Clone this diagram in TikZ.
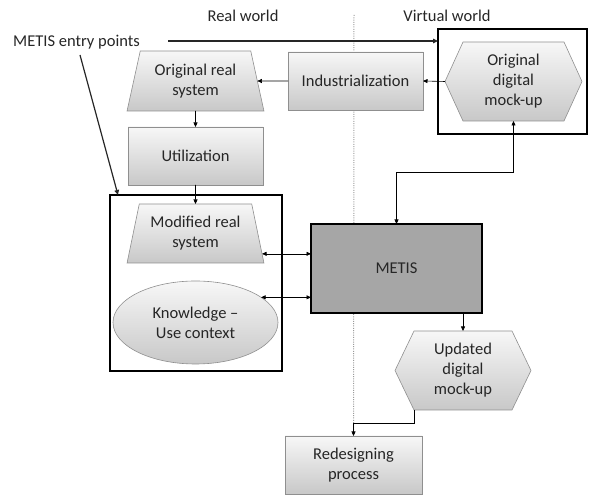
\documentclass[tikz,border=0pt]{standalone}
\usepackage{fontspec}
\setmainfont{Carlito}
\usetikzlibrary{shapes.geometric,arrows.meta,calc,backgrounds}
\definecolor{topc}{HTML}{F7F7F7}
\definecolor{botc}{HTML}{C8C8C8}
\definecolor{bord}{HTML}{8F8F8F}
\definecolor{metisc}{HTML}{A6A6A6}
\definecolor{txt}{HTML}{262626}
\definecolor{dotc}{HTML}{9A9A9A}
\begin{document}
\begin{tikzpicture}[x=1pt,y=1pt,
  every node/.style={font=\fontsize{16.5}{20}\selectfont, text=txt},
  box/.style={draw=bord, line width=0.6pt, top color=topc, bottom color=botc, align=center, inner sep=2pt, outer sep=0pt},
  trap/.style={box, trapezium, trapezium stretches=true, trapezium left angle=75, trapezium right angle=75},
  hexnode/.style={align=center, inner sep=0pt, outer sep=0pt},
  hexfill/.style={draw=bord, line width=0.6pt, top color=topc, bottom color=botc},
  container/.style={draw=black, line width=1.8pt, inner sep=0pt, outer sep=0pt},
  conn/.style={draw=black, line width=0.6pt, -{Triangle[length=4.5pt,width=4pt]}},
  conntwo/.style={draw=black, line width=0.6pt, {Triangle[length=4.5pt,width=4pt]}-{Triangle[length=4.5pt,width=4pt]}},
  entry/.style={draw=black!85, line width=1.2pt, -{Triangle[length=5pt,width=4.5pt]}},
  dotline/.style={draw=dotc, line width=1pt, dash pattern=on 1pt off 1.3pt}
]
\useasboundingbox (0,0) rectangle (595,495);

% labels
\node (rw) at (243,479) {Real world};
\node (vw) at (447,479) {Virtual world};
\node[anchor=west, inner sep=0pt] (entry) at (13,453) {METIS entry points};

% nodes
\node[trap, minimum width=137, minimum height=60] (ors) at (195.5,414) {Original real\\system};
\node[box, minimum width=135, minimum height=58] (ind) at (355.5,414) {Industrialization};
\node[hexnode, minimum width=137, minimum height=79] (odm) at (513.5,413.5) {Original\\digital\\mock-up};
\node[box, minimum width=135, minimum height=58] (util) at (195.5,339) {Utilization};
\node[trap, minimum width=137, minimum height=59] (mrs) at (195.5,261.5) {Modified real\\system};
\node[box, ellipse, minimum width=165, minimum height=83] (kuc) at (195.5,172.5) {Knowledge --\\Use context};
\node[draw=black, line width=1.3pt, fill=metisc, minimum width=171, minimum height=89, inner sep=0pt, outer sep=0pt] (metis) at (396.5,226.5) {METIS};
\node[hexnode, minimum width=136, minimum height=79] (udm) at (463,124.5) {Updated\\digital\\mock-up};
\node[box, minimum width=137, minimum height=58] (rdp) at (353.5,30) {Redesigning\\process};

% containers
\node[container, minimum width=149, minimum height=105] (rbox) at (512.5,413.5) {};
\node[container, minimum width=172, minimum height=176] (lbox) at (196,212) {};

\begin{scope}[on background layer]
  \coordinate (dtop) at (354,480);
  \draw[dotline] (dtop) -- (rdp.north);
  \path[hexfill] (odm.west) -- ($(odm.north west)+(18,0)$) -- ($(odm.north east)+(-18,0)$) -- (odm.east) -- ($(odm.south east)+(-18,0)$) -- ($(odm.south west)+(18,0)$) -- cycle;
  \path[hexfill] (udm.west) -- ($(udm.north west)+(19,0)$) -- ($(udm.north east)+(-19,0)$) -- (udm.east) -- ($(udm.south east)+(-19,0)$) -- ($(udm.south west)+(19,0)$) -- cycle;
\end{scope}

% connectors
\draw[conn] (ind.west) -- (ors.east);
\draw[conn] (odm.west) -- (ind.east);
\draw[conn] (ors.south) -- (util.north);
\draw[conn] (util.south) -- (mrs.north);
\draw[conntwo] (mrs.-17) -- (mrs.-17 -| metis.west);
\draw[conntwo] (kuc.21) -- (kuc.21 -| metis.west);
\draw[conntwo] (odm.south) -- ++(0,-51) -| (metis.north);
\draw[conn] (metis.south -| udm.north) -- (udm.north);
\coordinate (udmcorner) at ($(udm.south west)+(19,0)$);
\draw[conn] (udmcorner) -- ++(0,-13) -| (rdp.north);

% entry arrows
\coordinate (e1s) at (168,454);
\coordinate (e2s) at (80,440);
\coordinate (e1e) at ($(rbox.north west)+(0,-12)$);
\coordinate (e2e) at ($(lbox.north west)+(8,0)$);
\draw[entry] (e1s) -- (e1e);
\draw[entry] (e2s) -- (e2e);
\end{tikzpicture}
\end{document}
